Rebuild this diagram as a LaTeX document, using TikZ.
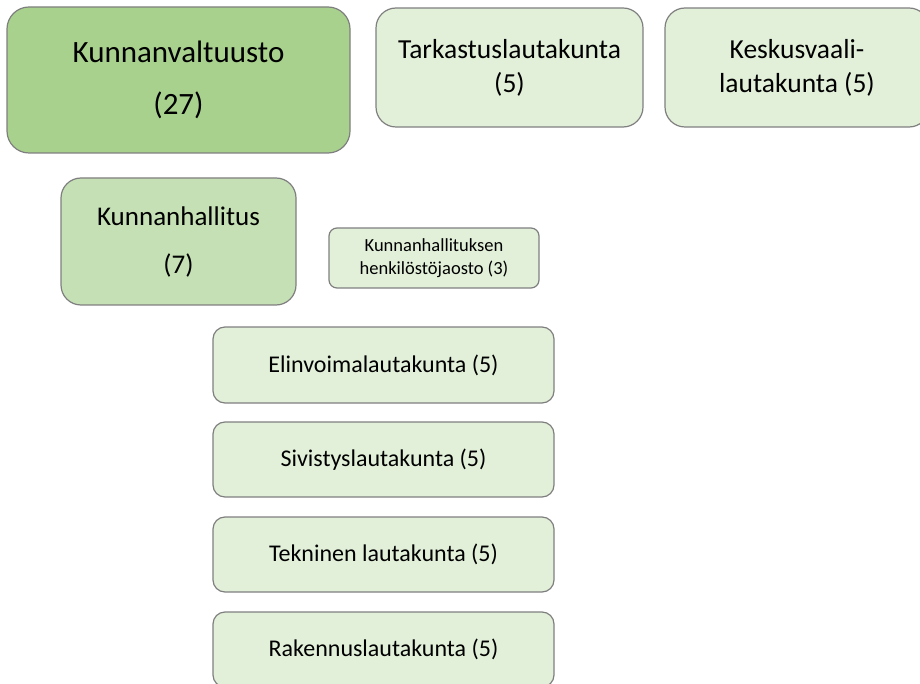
\documentclass[tikz,border=0pt]{standalone}
\usepackage{fontspec}
\setmainfont{Carlito}
\definecolor{gdark}{HTML}{A9D18E}
\definecolor{gmid}{HTML}{C5E0B4}
\definecolor{glight}{HTML}{E2F0D9}
\definecolor{bord}{HTML}{7F7F7F}
\tikzset{
  box/.style={draw=bord, line width=1.2pt, rounded corners=#1, align=center, inner sep=0pt},
  box/.default=14pt,
  big/.style={font=\fontsize{31}{52}\selectfont},
  mid/.style={font=\fontsize{27}{48}\selectfont},
  std/.style={font=\fontsize{27.5}{34}\selectfont},
  lit/.style={font=\fontsize{24}{28}\selectfont},
  tiny/.style={font=\fontsize{18.5}{23}\selectfont},
}
\begin{document}
\begin{tikzpicture}[x=1pt,y=-1pt]
\useasboundingbox (0,0) rectangle (920,684);
\clip (0,0) rectangle (920,684);
\node[box=22pt, fill=gdark, big, minimum width=343pt, minimum height=146pt] (kv) at (178.5,80) {Kunnanvaltuusto\\(27)};
\node[box=20pt, fill=glight, std, minimum width=267pt, minimum height=119pt] (tl) at (509.5,67.5) {Tarkastuslautakunta\\(5)};
\node[box=20pt, fill=glight, std, minimum width=264pt, minimum height=119pt] (kl) at (797,67.5) {Keskusvaali-\\lautakunta (5)};
\node[box=20pt, fill=gmid, mid, minimum width=235pt, minimum height=127pt] (kh) at (178.5,241.5) {Kunnanhallitus\\(7)};
\node[box=8pt, fill=glight, tiny, minimum width=210pt, minimum height=60pt] (hj) at (434,258) {Kunnanhallituksen\\henkilöstöjaosto (3)};
\node[box=12pt, fill=glight, lit, minimum width=341pt, minimum height=76pt] (el) at (383.5,365) {Elinvoimalautakunta (5)};
\node[box=12pt, fill=glight, lit, minimum width=341pt, minimum height=75pt] (si) at (383.5,459.5) {Sivistyslautakunta (5)};
\node[box=12pt, fill=glight, lit, minimum width=341pt, minimum height=75pt] (te) at (383.5,554.5) {Tekninen lautakunta (5)};
\node[box=12pt, fill=glight, lit, minimum width=341pt, minimum height=75pt] (ra) at (383.5,649.5) {Rakennuslautakunta (5)};
\end{tikzpicture}
\end{document}
